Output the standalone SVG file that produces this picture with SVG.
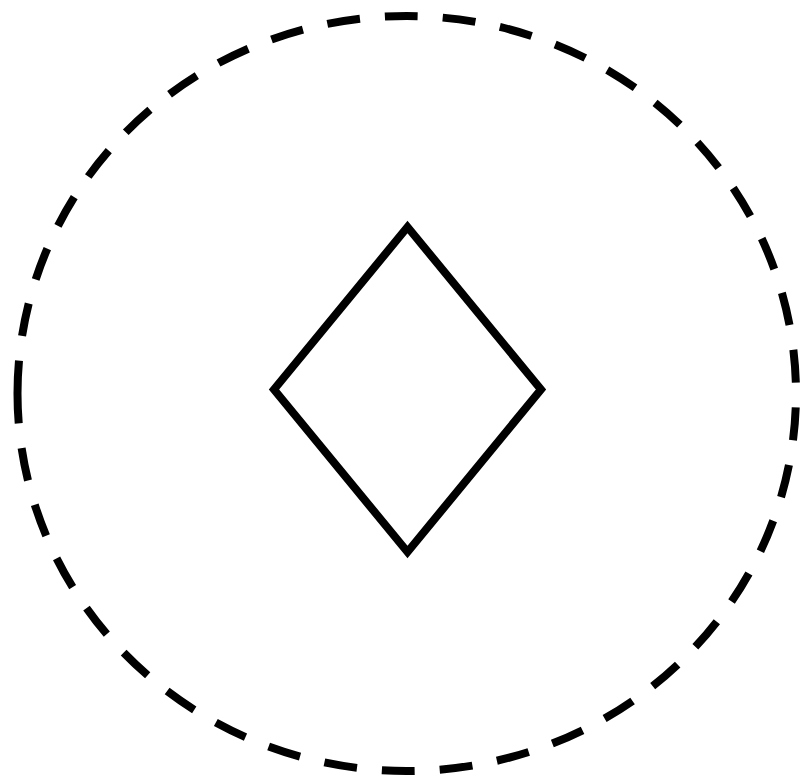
<svg xmlns="http://www.w3.org/2000/svg" width="803" height="780" viewBox="0 0 803 780">
  <style>
    .boundary { fill: none; stroke: #000; stroke-width: 8; stroke-dasharray: 33 25; }
    .node { fill: #fff; stroke: #000; stroke-width: 8; stroke-linejoin: miter; }
  </style>
  <rect width="803" height="780" fill="#fff"/>
  <g id="boundary">
    <path class="boundary" d="M 17.5 393.5 A 389.25 377.5 0 1 1 796 393.5 A 389.25 377.5 0 1 1 17.5 393.5"/>
  </g>
  <g id="diamond">
    <polygon class="node" points="407.5,227 541,389.5 407.5,552 274,389.5"/>
  </g>
  <g id="connectors"></g>
</svg>
